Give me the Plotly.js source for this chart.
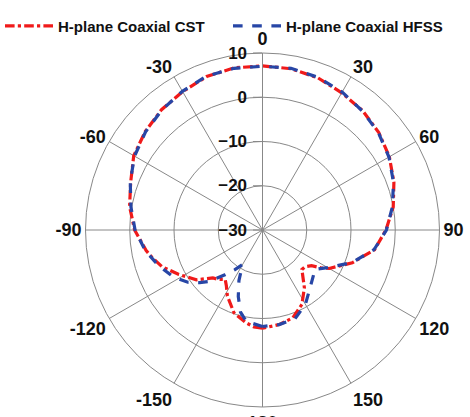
<!DOCTYPE html>
<html>
<head>
<meta charset="utf-8">
<script src="https://cdn.plot.ly/plotly-3.0.1.min.js"></script>
<style>html,body{margin:0;padding:0;background:#fff;}#chart{width:470px;height:417px;}</style>
</head>
<body>
<div id="chart"></div>
<script>
// H-plane Coaxial HFSS (blue dashed)
var hfssTheta = [-180,-170,-165,-160,-155,-150,-145,-140,-134,-130,-125,-120,-117,-110,-107,-100,-90,-80,-70,-60,-50,-40,-30,-20,-10,
                 0,10,20,30,40,50,60,70,80,90,100,110,120,127,130,140,150,160,170,180];
var hfssR =     [-8.2,-9.0,-10.8,-14.0,-17.4,-21.0,-19.0,-16.8,-13.3,-11.5,-9.4,-8.0,-7.1,-5.5,-4.8,-3.1,-1.2,0.2,1.8,3.4,4.5,5.4,6.2,7.0,7.1,
                 7.0,7.1,6.7,6.0,5.1,4.2,3.0,1.5,-0.2,-2.0,-4.4,-8.5,-13.0,-15.2,-14.8,-13.2,-10.6,-8.6,-8.3,-8.2];
// H-plane Coaxial CST (red dash-dot)
var cstTheta = [-180,-175,-170,-161,-152,-147,-143,-138,-134,-127,-118,-110,-104,-100,-90,-80,-70,-60,-50,-40,-30,-20,-10,
                0,10,20,30,40,50,60,70,80,90,100,110,120,123,126,131,135,139,144,152,161,170,180];
var cstR =     [-7.8,-8.0,-8.7,-10.2,-13.1,-15.0,-16.0,-15.0,-14.4,-11.3,-8.6,-5.8,-4.3,-3.3,-1.1,0.5,1.7,3.6,4.6,5.5,6.1,6.9,7.2,
                7.1,7.0,6.6,5.8,5.2,4.3,3.1,1.6,0.0,-2.1,-4.3,-8.4,-12.6,-14.3,-16.3,-17.3,-17.4,-16.1,-13.9,-11.0,-9.0,-8.3,-7.8];

var angTickVals = [0,30,60,90,120,150,180,210,240,270,300,330];
var angTickText = ['0','30','60','90','120','150','180','-150','-120','-90','-60','-30'];
var radTickVals = [-30,-20,-10,0,10];

var traces = [
  {type:'scatterpolar', mode:'lines', name:'H-plane Coaxial CST', theta:cstTheta, r:cstR,
   line:{color:'#f01a1a', width:3.2, dash:'dashdot'}},
  {type:'scatterpolar', mode:'lines', name:'H-plane Coaxial HFSS', theta:hfssTheta, r:hfssR,
   line:{color:'#2746a6', width:3.2, dash:'dash'}}
];

var layout = {
  width:470, height:417,
  margin:{l:0,r:0,t:0,b:0},
  paper_bgcolor:'#fff',
  showlegend:true,
  legend:{orientation:'h', x:0.0, y:0.977, xanchor:'left', yanchor:'top', itemwidth:48, entrywidth:165,
          bgcolor:'rgba(0,0,0,0)',
          font:{family:'Liberation Sans', size:15, color:'#111', weight:'bold'}},
  font:{family:'Liberation Sans', color:'#111'},
  polar:{
    domain:{x:[85.5/470, 439.5/470], y:[1-407/417, 1-53/417]},
    bgcolor:'#fff',
    angularaxis:{rotation:90, direction:'clockwise', tickmode:'array', tickvals:angTickVals, ticktext:angTickText,
                 tickfont:{family:'Liberation Sans', size:18, color:'#111', weight:'bold'},
                 gridcolor:'#888', gridwidth:1, linecolor:'#888', linewidth:1, ticks:''},
    radialaxis:{range:[-30,10], tickmode:'array', tickvals:radTickVals, angle:90, side:'counterclockwise',
                tickangle:90, tickfont:{family:'Liberation Sans', size:17, color:'#111', weight:'bold'},
                gridcolor:'#888', gridwidth:1, showline:true, linecolor:'#888', linewidth:1,
                ticks:'outside', ticklen:9, tickcolor:'#888'}
  }
};
Plotly.newPlot('chart', traces, layout, {displayModeBar:false, staticPlot:true});
</script>
</body>
</html>
